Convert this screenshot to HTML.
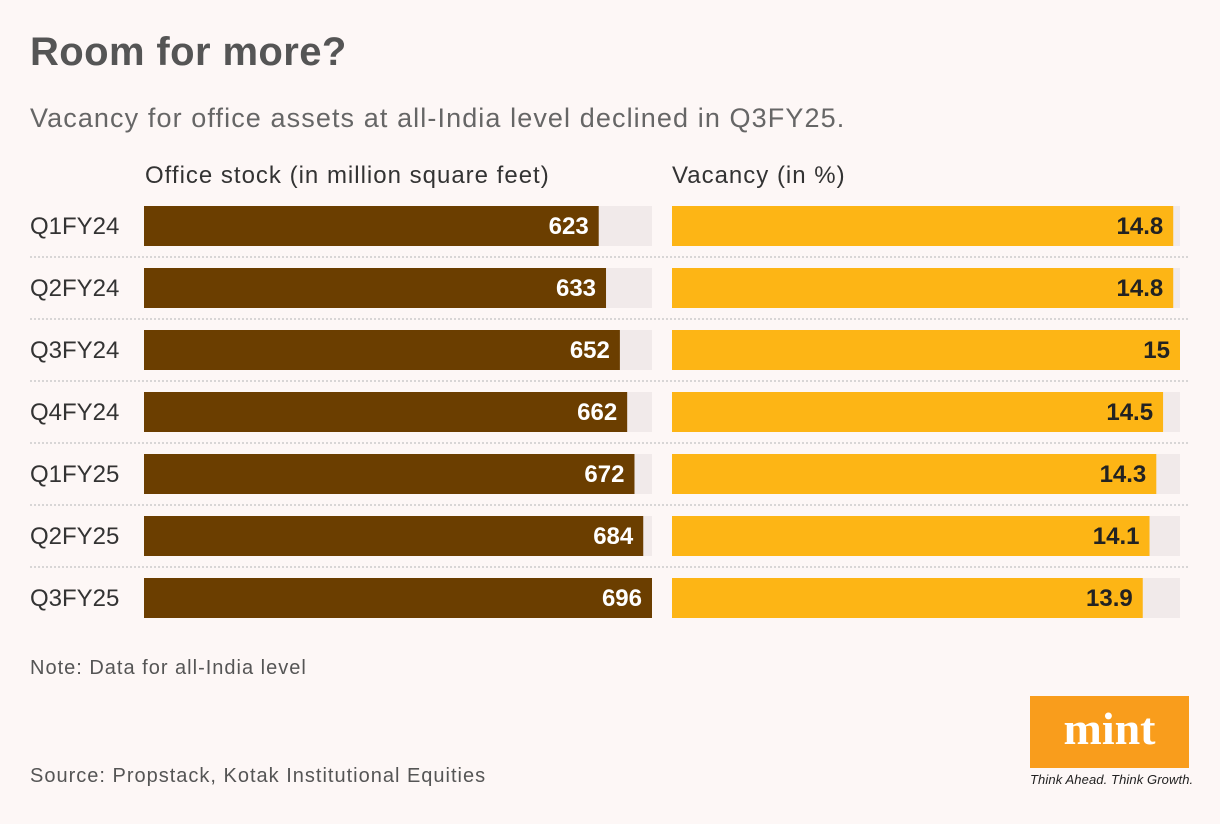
<!DOCTYPE html>
<html><head><meta charset="utf-8"><style>
body{margin:0;width:1220px;height:824px;background:#fdf7f6;font-family:"Liberation Sans",sans-serif;position:relative;overflow:hidden}
.t{position:absolute;white-space:nowrap}
</style></head><body>
<div class="t" style="left:30px;top:30px;font-size:40px;font-weight:bold;color:#555;letter-spacing:0.4px">Room for more?</div>
<div class="t" style="left:30px;top:103px;font-size:27px;color:#666;letter-spacing:1.1px">Vacancy for office assets at all-India level declined in Q3FY25.</div>
<div class="t" style="left:145px;top:162px;font-size:24px;color:#333;letter-spacing:1px">Office stock (in million square feet)</div>
<div class="t" style="left:672px;top:162px;font-size:24px;color:#333;letter-spacing:1px">Vacancy (in %)</div>
<svg id="c" width="1220" height="824" style="position:absolute;left:0;top:0"></svg>
<div class="t" style="left:30px;top:657px;font-size:20px;color:#555;letter-spacing:1px">Note: Data for all-India level</div>
<div class="t" style="left:30px;top:765px;font-size:20px;color:#555;letter-spacing:1px">Source: Propstack, Kotak Institutional Equities</div>
<div style="position:absolute;left:1030px;top:696px;width:159px;height:72px;background:#f99d1c;color:#fff;font-family:'Liberation Serif',serif;font-weight:bold;font-size:46px;text-align:center;line-height:66px">mint</div>
<div class="t" style="left:1030px;top:772px;font-size:13px;font-style:italic;color:#222;letter-spacing:0.1px">Think Ahead. Think Growth.</div>
<script>
const categories=["Q1FY24","Q2FY24","Q3FY24","Q4FY24","Q1FY25","Q2FY25","Q3FY25"];
const stock=[623,633,652,662,672,684,696];
const vacancy=[14.8,14.8,15,14.5,14.3,14.1,13.9];
const stockMax=696, vacMax=15;
const svg=document.getElementById('c');const NS='http://www.w3.org/2000/svg';
function el(t,a){const e=document.createElementNS(NS,t);for(const k in a)e.setAttribute(k,a[k]);svg.appendChild(e);return e;}
const xs=v=>508*v/stockMax, xv=v=>508*v/vacMax, y=i=>206+62*i;
categories.forEach((c,i)=>{
 const yy=y(i);
 if(i<categories.length-1){const l=el('line',{x1:30,x2:1188,y1:yy+51,y2:yy+51,stroke:'#ccc','stroke-width':1.5,'stroke-dasharray':'2 2'});
 }
 const lb=el('text',{x:30,y:yy+28,'font-size':24,fill:'#333'});lb.textContent=c;
 
 const t1=el('rect',{x:144,y:yy,width:508,height:40,fill:'#f1eaea'});
 
 const b1=el('rect',{x:144,y:yy,width:xs(stock[i]),height:40,fill:'#6b3e00'});
 
 const v1=el('text',{x:144+xs(stock[i])-10,y:yy+28,'font-size':24,'font-weight':'bold',fill:'#fff','text-anchor':'end'});v1.textContent=stock[i];
 
 const t2=el('rect',{x:672,y:yy,width:508,height:40,fill:'#f1eaea'});
 
 const b2=el('rect',{x:672,y:yy,width:xv(vacancy[i]),height:40,fill:'#fdb515'});
 
 const v2=el('text',{x:672+xv(vacancy[i])-10,y:yy+28,'font-size':24,'font-weight':'bold',fill:'#222','text-anchor':'end'});v2.textContent=vacancy[i];
 
});
</script>
</body></html>
